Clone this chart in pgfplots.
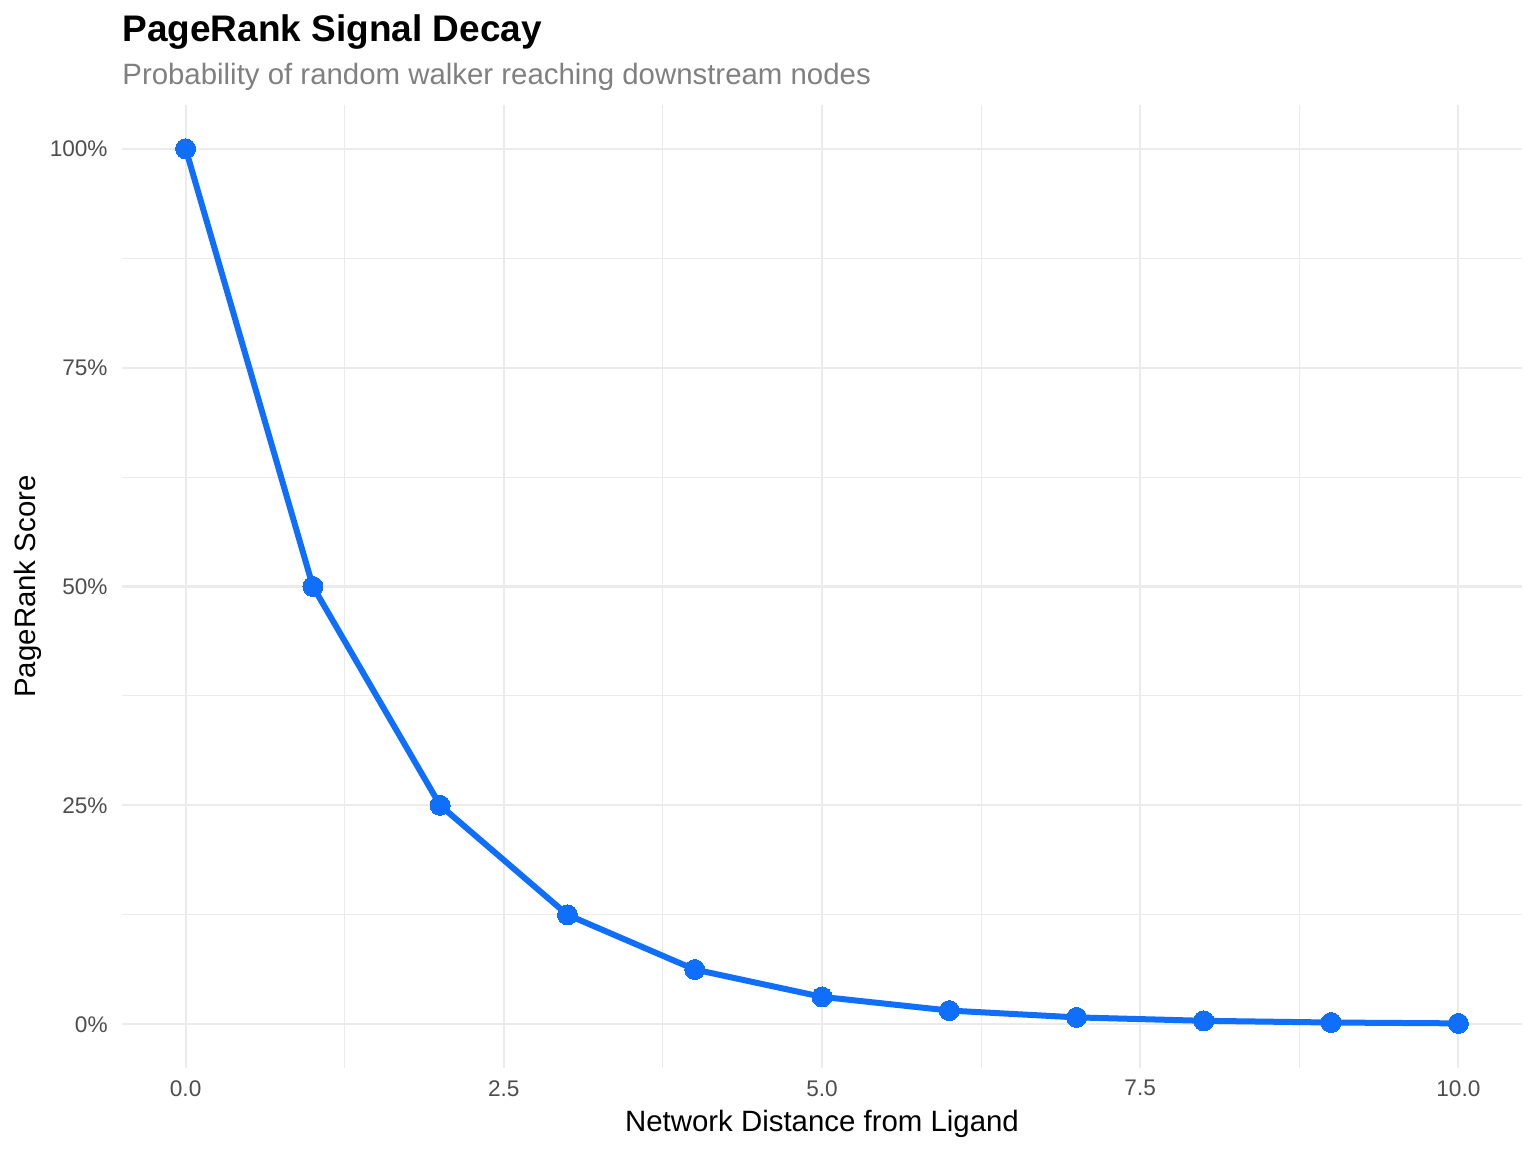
\documentclass[border=0pt]{standalone}
\usepackage{pgfplots}
\pgfplotsset{compat=1.18}
\usepackage{fontspec}
\setmainfont{Liberation Sans}
\definecolor{lineblue}{HTML}{0F6FFA}
\definecolor{gridc}{HTML}{EBEBEB}
\definecolor{tickc}{HTML}{4D4D4D}
\begin{document}
\begin{tikzpicture}
\path[use as bounding box] (0,0) rectangle (768pt,576pt);
\begin{axis}[
  at={(61pt,42pt)}, anchor=south west,
  scale only axis, width=700pt, height=481.5pt,
  xmin=-0.5, xmax=10.5, ymin=-0.05, ymax=1.05,
  axis line style={draw=none}, tick style={draw=none},
  xtick={0,2.5,5,7.5,10}, xticklabels={0.0,2.5,5.0,7.5,10.0},
  ytick={0,0.25,0.5,0.75,1}, yticklabels={0\%,25\%,50\%,75\%,100\%},
  minor xtick={1.25,3.75,6.25,8.75},
  minor ytick={0.125,0.375,0.625,0.875},
  grid=both,
  major grid style={draw=gridc, line width=1.1pt},
  minor grid style={draw=gridc, line width=0.55pt},
  /pgf/number format/assume math mode=true,
  ticklabel style={font=\fontsize{11.3}{13}\selectfont, text=tickc},
  xticklabel style={anchor=north, inner sep=0pt, yshift=-6pt},
  yticklabel style={anchor=east, inner sep=0pt, xshift=-7pt},
  xlabel={Network Distance from Ligand},
  ylabel={PageRank Score},
  label style={font=\fontsize{14.7}{17}\selectfont},
  xlabel style={at={(axis description cs:0.5,0)}, anchor=base, yshift=-31.5pt},
  ylabel style={at={(axis description cs:0,0.5)}, anchor=center, yshift=47pt, xshift=0pt},
  clip=false,
]
\addplot[lineblue, line width=3pt, mark=*, mark size=5pt, mark options={fill=lineblue, draw=lineblue, line width=0pt}] coordinates {
(0,1) (1,0.5) (2,0.25) (3,0.125) (4,0.0625) (5,0.03125) (6,0.015625) (7,0.0078125) (8,0.00390625) (9,0.001953125) (10,0.0009765625)
};
\end{axis}
\node[anchor=base west, inner sep=0pt, font=\fontsize{18.5}{22}\selectfont\bfseries] at (61pt,555pt) {PageRank Signal Decay};
\node[anchor=base west, inner sep=0pt, font=\fontsize{14.7}{17}\selectfont, text=gray] at (61pt,533.5pt) {Probability of random walker reaching downstream nodes};
\end{tikzpicture}
\end{document}
